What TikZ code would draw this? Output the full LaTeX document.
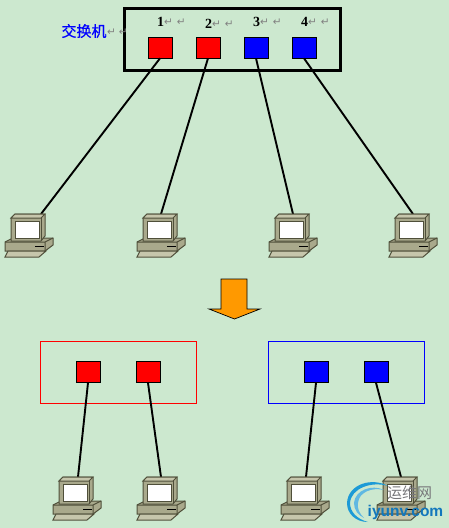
\documentclass[tikz,border=0pt]{standalone}
\usepackage{fontspec}
\setmainfont{Liberation Serif}
\newfontfamily\cjk{Noto Sans CJK SC}
\newfontfamily\cjktitle[FakeBold=0.6]{Noto Sans CJK SC}
\newfontfamily\symb{DejaVu Sans}
\newfontfamily\wm{Liberation Sans}
\definecolor{bg}{HTML}{CCE8CF}
\definecolor{pcbody}{HTML}{A9A98C}
\definecolor{pcdark}{HTML}{4F4F3A}
\definecolor{pclight}{HTML}{C6C6AC}
\definecolor{swirl}{HTML}{1C9AD6}
\definecolor{wmblue}{HTML}{1277BC}
\definecolor{arrowfill}{HTML}{FF9900}
\definecolor{wmgray}{HTML}{77777A}
\tikzset{
  port/.style={draw=black, line width=.6pt, minimum width=24pt, minimum height=21pt, inner sep=0pt},
  link/.style={line width=1.9pt, black},
  num/.style={font=\bfseries\fontsize{14}{14}\selectfont, inner sep=0pt, anchor=west},
  ret/.style={gray, font=\symb\fontsize{10.5}{10.5}\selectfont, inner sep=0pt, anchor=west},
  pc/.pic={
    % offsets from the left end of the base, top of the monitor at 0
    \draw[pcdark, fill=pcbody, line width=1pt] (0,28) -- (8,24) -- (48,24) -- (48,31) -- (40,37) -- (0,37) -- cycle;
    \draw[pcdark, line width=1pt] (0,28) -- (40,28) -- (48,24) (40,28) -- (40,37);
    \draw[pcdark, fill=pclight, line width=1pt] (3,37) -- (41,37) -- (34,43) -- (0,43) -- cycle;
    \draw[black, line width=.8pt] (30,32) -- (39,32);
    \draw[pcdark, fill=pcbody, line width=1pt] (6,4) -- (10,0) -- (40,0) -- (40,22) -- (36,27) -- (6,27) -- cycle;
    \draw[pcdark, fill=pclight, line width=1pt] (6,4) -- (10,0) -- (40,0) -- (36,4) -- cycle;
    \draw[pcdark, line width=1pt] (36,4) -- (36,27);
    \draw[pcdark, fill=white, line width=1pt] (10,7) -- (34,7) -- (34,24) -- (10,24) -- cycle;
  }
}
\begin{document}
\begin{tikzpicture}[x=1pt,y=-1pt]
  \useasboundingbox[fill=bg] (0,0) rectangle (449,528);

  % switch
  \node[draw=black, line width=2.4pt, minimum width=216pt, minimum height=62pt, inner sep=0pt] (switch) at (232.5,39.5) {};
  \node[blue, font=\cjktitle\fontsize{15}{15}\selectfont, inner sep=0pt] (title) at (84,31) {交换机};
  \node[ret] (titleret) at (107,32) {↵\hspace{3pt}↵};

  \foreach \n/\x/\col/\y in {1/160/red/22,2/208/red/24,3/256/blue/22,4/304/blue/22}{
    \node[port, fill=\col] (port\n) at (\x,47.5) {};
    \node[num] (num\n) at (\x-3,\y) {\n};
    \node[ret] (ret\n) at (\x+4,\y) {↵\hspace{4pt}↵};
  }

  % machines
  \foreach \n/\x/\y in {1/41/214,2/161/214,3/293/214,4/413/214,5/78/477,6/161/477,7/306/477,8/401/477}
    \coordinate (end\n) at (\x,\y);
  \foreach \n in {1,2,3,4}
    \draw[link] (port\n.south) -- (end\n);
  \pic at (5,214) {pc};
  \pic at (137,214) {pc};
  \pic at (269,214) {pc};
  \pic at (389,214) {pc};

  % arrow
  \draw[black, fill=arrowfill, line width=.7pt] (221,279) -- (247,279) -- (247,309) -- (260,309) -- (234.5,319) -- (209,309) -- (221,309) -- cycle;

  % two groups
  \node[draw=red, line width=.5pt, minimum width=156pt, minimum height=62pt, inner sep=0pt] (groupa) at (118,372) {};
  \node[draw=blue, line width=.5pt, minimum width=156pt, minimum height=62pt, inner sep=0pt] (groupb) at (346,372) {};
  \node[port, fill=red] (port5) at (88,372) {};
  \node[port, fill=red] (port6) at (148,372) {};
  \node[port, fill=blue] (port7) at (316,372) {};
  \node[port, fill=blue] (port8) at (376,372) {};
  \foreach \n in {5,6,7,8}
    \draw[link] (port\n.south) -- (end\n);
  \pic at (53,477) {pc};
  \pic at (137,477) {pc};
  \pic at (281,477) {pc};
  \pic at (377,477) {pc};

  % watermark
  \fill[swirl] (388,486) .. controls (372,477) and (348,484) .. (347,503) .. controls (347,514) and (356,522) .. (368,522) .. controls (357,519) and (350,512) .. (350,503) .. controls (351,488) and (372,481) .. (388,486) -- cycle;
  \fill[swirl!70] (384,490) .. controls (372,484) and (355,490) .. (354,503) .. controls (354,510) and (358,515) .. (364,518) .. controls (359,513) and (357,508) .. (358,503) .. controls (359,492) and (372,487) .. (384,490) -- cycle;
  \node[wmgray, font=\cjk\fontsize{15}{15}\selectfont, inner sep=0pt] (wmcn) at (409.5,493) {运维网};
  \node[wmblue, font=\wm\bfseries\fontsize{15.5}{15.5}\selectfont, inner sep=0pt] (wmen) at (405.5,512) {iyunv.com};
\end{tikzpicture}
\end{document}
